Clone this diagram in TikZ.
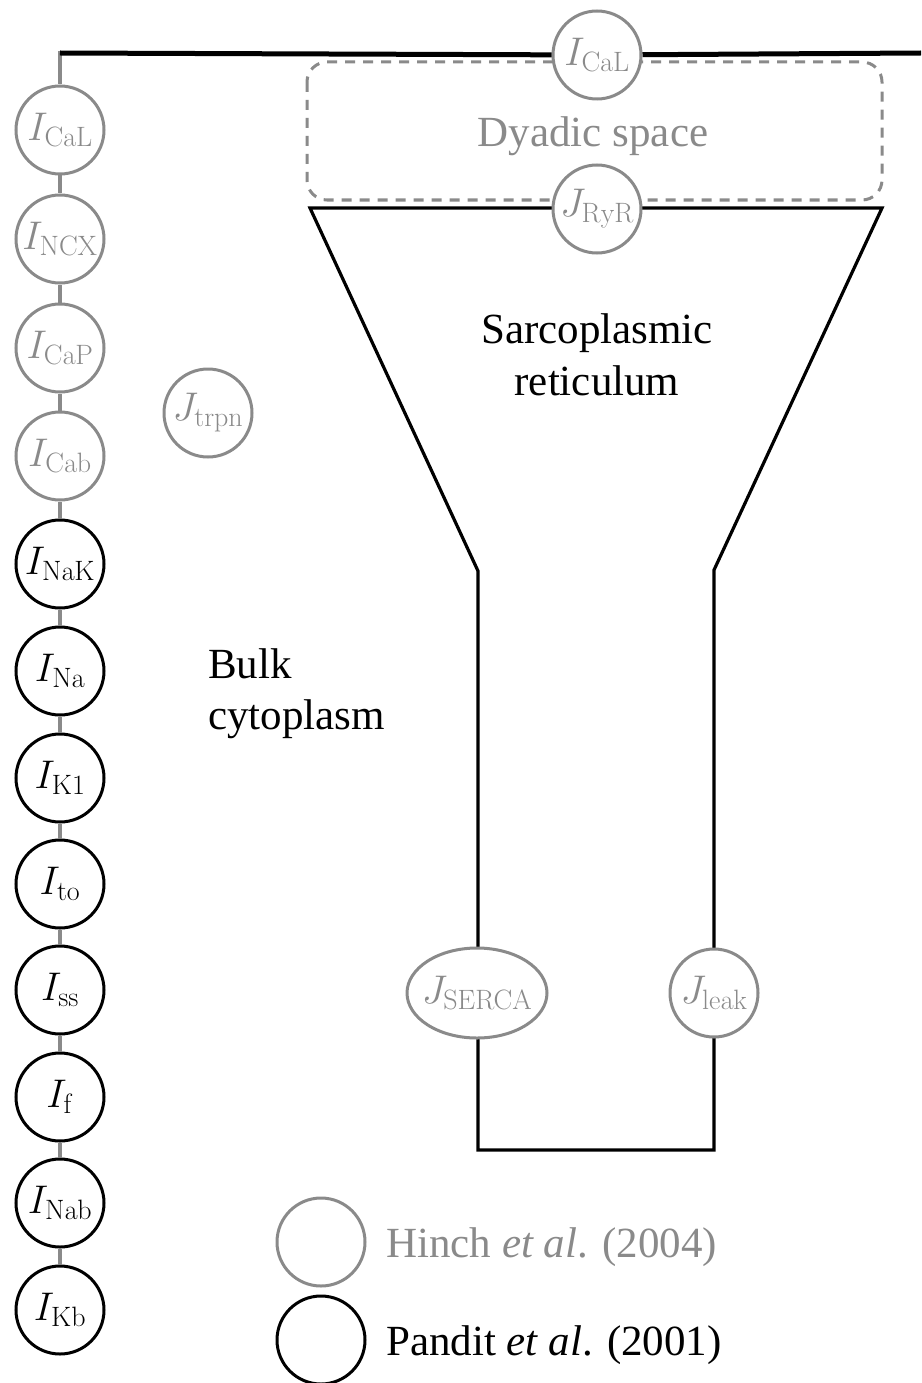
\RequirePackage{fix-cm}
\documentclass[tikz,border=0pt]{standalone}
\usepackage[no-math]{fontspec}
\setmainfont{Liberation Serif}
\usetikzlibrary{shapes.geometric}
\definecolor{hgray}{HTML}{8A8A8A}
\newcommand{\cur}[2]{\makebox[0pt]{$#1_{\mathrm{#2}}$}}
\begin{document}
\begin{tikzpicture}[x=1pt,y=1pt,
  txt/.style={font=\fontsize{43}{52}\selectfont},
  hinch/.style={circle,draw=hgray,line width=3pt,fill=white,minimum size=88pt,inner sep=0pt,text=hgray,font=\fontsize{40}{48}\selectfont},
  pandit/.style={hinch,draw=black,text=black},
  hinchell/.style={hinch,ellipse,minimum width=140pt,minimum height=90pt},
  membrane/.style={line width=3.2pt,black},
  chain/.style={line width=4.5pt,hgray},
  topline/.style={line width=5pt,black},
  dyadbox/.style={line width=3pt,hgray,dash pattern=on 10pt off 8pt,rounded corners=20pt}]
\useasboundingbox (0,0) rectangle (921,-1383);

% dyadic space box
\draw[dyadbox] (307,-62) rectangle (882,-200);

% sarcoplasmic reticulum outline
\coordinate (sr1) at (310,-208);
\coordinate (sr2) at (882,-208);
\coordinate (sr3) at (714,-570);
\coordinate (sr4) at (714,-1150);
\coordinate (sr5) at (478,-1150);
\coordinate (sr6) at (478,-571);
\draw[membrane,line join=miter] (sr1) -- (sr2) -- (sr3) -- (sr4) -- (sr5) -- (sr6) -- cycle;

% left column of currents
\coordinate (tl) at (60,-53);
\coordinate (tr) at (921,-53);
\node[hinch]  (c1)  at (60,-130)  {\cur{I}{CaL}};
\node[hinch]  (c2)  at (60,-239)  {\cur{I}{NCX}};
\node[hinch]  (c3)  at (60,-348)  {\cur{I}{CaP}};
\node[hinch]  (c4)  at (60,-456)  {\cur{I}{Cab}};
\node[pandit] (c5)  at (60,-564)  {\cur{I}{NaK}};
\node[pandit] (c6)  at (60,-671)  {\cur{I}{Na}};
\node[pandit] (c7)  at (60,-778)  {\cur{I}{K1}};
\node[pandit] (c8)  at (60,-884)  {\cur{I}{to}};
\node[pandit] (c9)  at (60,-990)  {\cur{I}{ss}};
\node[pandit] (c10) at (60,-1097) {\cur{I}{f}};
\node[pandit] (c11) at (60,-1203) {\cur{I}{Nab}};
\node[pandit] (c12) at (60,-1310) {\cur{I}{Kb}};
\draw[chain] (60,-51) -- (c1) -- (c2) -- (c3) -- (c4) -- (c5) -- (c6) -- (c7) -- (c8) -- (c9) -- (c10) -- (c11) -- (c12);

% top membrane with L-type channel
\node[hinch] (cal2) at (597,-55) {\cur{I}{CaL}};
\draw[topline] (tl) -- (cal2) -- (tr);

% SR fluxes
\node[hinch] (ryr) at (597,-209) {\cur{J}{RyR}};
\node[hinchell] (serca) at (477,-993) {\cur{J}{SERCA}};
\node[hinch] (leak) at (714,-993) {\cur{J}{leak}};
\node[hinch] (trpn) at (208,-413) {\cur{J}{trpn}};

% labels
\node[txt,text=hgray,anchor=base] (dyad) at (593,-147) {Dyadic space};
\node[txt,anchor=base] (sr) at (597,-343) {Sarcoplasmic};
\node[txt,anchor=base] (sr2t) at (597,-395) {reticulum};
\node[txt,anchor=base west,inner sep=0pt] (bulk) at (208,-678) {Bulk};
\node[txt,anchor=base west,inner sep=0pt] (bulk2) at (208,-729) {cytoplasm};

% legend
\node[hinch] (lh) at (321,-1242) {};
\node[pandit] (lp) at (321,-1340) {};
\node[txt,text=hgray,anchor=base west,inner sep=0pt] (lht) at (386,-1257) {Hinch \textit{et al}. (2004)};
\node[txt,anchor=base west,inner sep=0pt] (lpt) at (386,-1355) {Pandit \textit{et al}. (2001)};
\end{tikzpicture}
\end{document}
